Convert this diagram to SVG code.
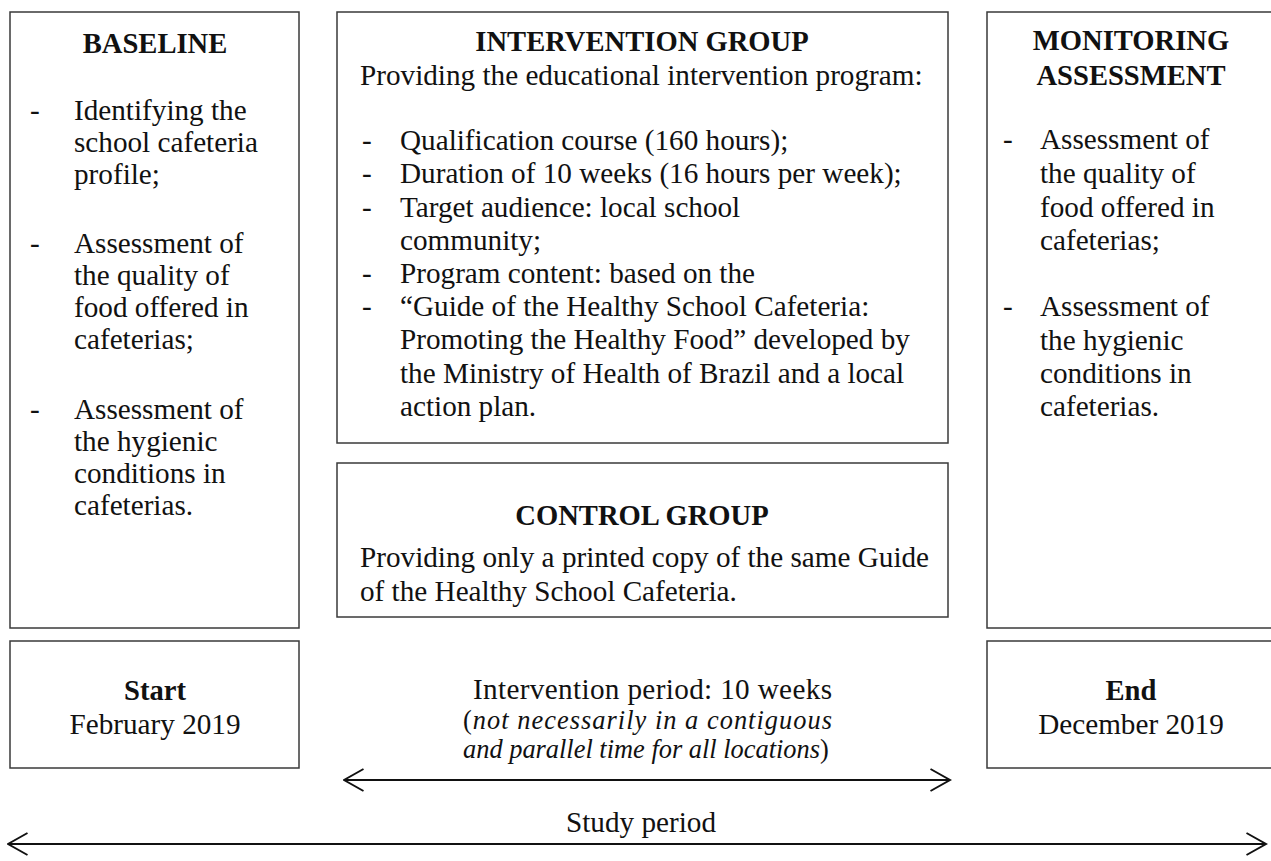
<svg xmlns="http://www.w3.org/2000/svg" width="1271" height="861" viewBox="0 0 1271 861">
<style>
.box{fill:#fff;stroke:#3a3a3a;stroke-width:1.5}
text{font-family:"Liberation Serif","Times New Roman",serif;font-size:29.2px;fill:#111}
.h{font-weight:bold;font-size:28.6px;text-anchor:middle}
.c{text-anchor:middle}
.it{font-style:italic;font-size:26.4px}
.ln{stroke:#111;stroke-width:2;fill:none}
</style>
<defs>
<marker id="ah" viewBox="0 0 22 24" refX="20.5" refY="12" markerWidth="22" markerHeight="24" markerUnits="userSpaceOnUse" orient="auto-start-reverse">
<path d="M1,1 L20.5,12 L1,23" fill="none" stroke="#111" stroke-width="2"/>
</marker>
</defs>
<rect width="1271" height="861" fill="#fff"/>

<g id="baseline">
<rect class="box" x="10" y="12" width="289" height="616"/>
<text class="h" x="155" y="53">BASELINE</text>
<text x="30" y="120">-</text>
<text x="74" y="120">Identifying the</text>
<text x="74" y="152">school cafeteria</text>
<text x="74" y="184">profile;</text>
<text x="30" y="253">-</text>
<text x="74" y="253">Assessment of</text>
<text x="74" y="285">the quality of</text>
<text x="74" y="317">food offered in</text>
<text x="74" y="349">cafeterias;</text>
<text x="30" y="419">-</text>
<text x="74" y="419">Assessment of</text>
<text x="74" y="451">the hygienic</text>
<text x="74" y="483">conditions in</text>
<text x="74" y="515">cafeterias.</text>
</g>

<g id="intervention">
<rect class="box" x="337" y="12" width="611" height="431"/>
<text class="h" x="642" y="51">INTERVENTION GROUP</text>
<text x="360" y="85">Providing the educational intervention program:</text>
<text x="362" y="150">-</text>
<text x="400" y="150">Qualification course (160 hours);</text>
<text x="362" y="183">-</text>
<text x="400" y="183">Duration of 10 weeks (16 hours per week);</text>
<text x="362" y="217">-</text>
<text x="400" y="217">Target audience: local school</text>
<text x="400" y="250">community;</text>
<text x="362" y="283">-</text>
<text x="400" y="283">Program content: based on the</text>
<text x="362" y="316">-</text>
<text x="400" y="316">“Guide of the Healthy School Cafeteria:</text>
<text x="400" y="349">Promoting the Healthy Food” developed by</text>
<text x="400" y="383">the Ministry of Health of Brazil and a local</text>
<text x="400" y="416">action plan.</text>
</g>

<g id="control">
<rect class="box" x="337" y="463" width="611" height="154"/>
<text class="h" x="642" y="525">CONTROL GROUP</text>
<text x="360" y="567">Providing only a printed copy of the same Guide</text>
<text x="360" y="601">of the Healthy School Cafeteria.</text>
</g>

<g id="monitoring">
<rect class="box" x="987" y="12" width="290" height="616"/>
<text class="h" x="1131" y="50">MONITORING</text>
<text class="h" x="1131" y="85">ASSESSMENT</text>
<text x="1003" y="149">-</text>
<text x="1040" y="149">Assessment of</text>
<text x="1040" y="183">the quality of</text>
<text x="1040" y="217">food offered in</text>
<text x="1040" y="250">cafeterias;</text>
<text x="1003" y="316">-</text>
<text x="1040" y="316">Assessment of</text>
<text x="1040" y="350">the hygienic</text>
<text x="1040" y="383">conditions in</text>
<text x="1040" y="416">cafeterias.</text>
</g>

<g id="start">
<rect class="box" x="10" y="641" width="289" height="127"/>
<text class="h" x="155" y="700">Start</text>
<text class="c" x="155" y="734">February 2019</text>
</g>

<g id="end">
<rect class="box" x="987" y="641" width="290" height="127"/>
<text class="h" x="1131" y="700">End</text>
<text class="c" x="1131" y="734">December 2019</text>
</g>

<g id="intervention-period">
<text x="473" y="699" textLength="359" lengthAdjust="spacing">Intervention period: 10 weeks</text>
<text class="it" x="463" y="729" textLength="369" lengthAdjust="spacing"><tspan font-style="normal">(</tspan>not necessarily in a contiguous</text>
<text class="it" x="463" y="758">and parallel time for all locations<tspan font-style="normal">)</tspan></text>
</g>

<g id="study-period">
<text class="c" x="641" y="832">Study period</text>
</g>

<g id="connectors">
<line class="ln" x1="344" y1="780" x2="950" y2="780" marker-start="url(#ah)" marker-end="url(#ah)"/>
<line class="ln" x1="8" y1="844" x2="1266" y2="844" marker-start="url(#ah)" marker-end="url(#ah)"/>
</g>
</svg>
